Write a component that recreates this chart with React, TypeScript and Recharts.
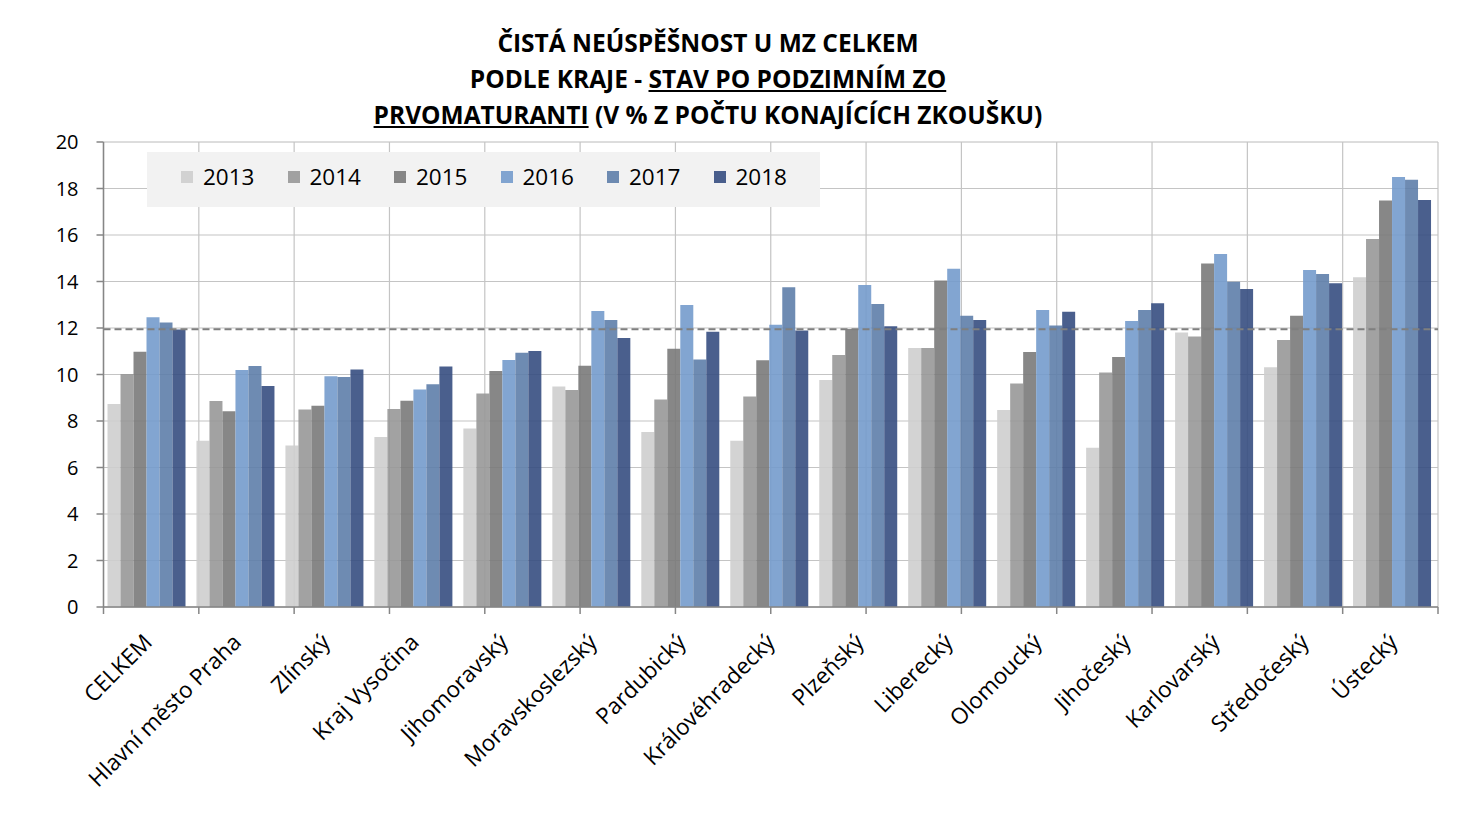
import React from 'react';
import { BarChart, Bar, XAxis, YAxis, CartesianGrid, ReferenceLine, Legend } from 'recharts';

const categories = ['CELKEM', 'Hlavní město Praha', 'Zlínský', 'Kraj Vysočina', 'Jihomoravský', 'Moravskoslezský', 'Pardubický', 'Královéhradecký', 'Plzeňský', 'Liberecký', 'Olomoucký', 'Jihočeský', 'Karlovarský', 'Středočeský', 'Ústecký'];
const years = ['2013', '2014', '2015', '2016', '2017', '2018'];
const v2013 = [8.73, 7.15, 6.95, 7.31, 7.68, 9.48, 7.53, 7.15, 9.76, 11.14, 8.47, 6.85, 11.81, 10.31, 14.18];
const v2014 = [10.02, 8.86, 8.5, 8.52, 9.18, 9.33, 8.92, 9.05, 10.84, 11.14, 9.61, 10.09, 11.63, 11.48, 15.83];
const v2015 = [10.98, 8.42, 8.66, 8.87, 10.15, 10.38, 11.11, 10.61, 11.96, 14.04, 10.97, 10.75, 14.77, 12.53, 17.48];
const v2016 = [12.46, 10.19, 9.92, 9.35, 10.62, 12.73, 12.99, 12.14, 13.85, 14.55, 12.77, 12.3, 15.18, 14.49, 18.49];
const v2017 = [12.24, 10.37, 9.89, 9.58, 10.94, 12.34, 10.65, 13.75, 13.03, 12.53, 12.11, 12.77, 13.99, 14.32, 18.38];
const v2018 = [11.94, 9.51, 10.22, 10.34, 11.01, 11.57, 11.84, 11.89, 12.07, 12.34, 12.7, 13.06, 13.68, 13.92, 17.51];
const celkemLevel = 11.95;
const yTicks = [0, 2, 4, 6, 8, 10, 12, 14, 16, 18, 20];
const minorTicks = Array.from({ length: 51 }, (_, i) => Math.round(i * 4) / 10);
const boundaryTicks = Array.from({ length: 16 }, (_, i) => i);

const colors = ['#cecece', '#989898', '#7a7a7a', '#749bcc', '#5e7eaa', '#364e81'];
const seriesValues = [v2013, v2014, v2015, v2016, v2017, v2018];

const data = categories.map((name, i) => {
  const row: Record<string, string | number> = { name };
  years.forEach((y, k) => { row[y] = seriesValues[k][i]; });
  return row;
});

const FONT = '"Open Sans", Carlito, Lato, sans-serif';

const CatTick = (props: any) => {
  const { x, y, payload } = props;
  const ax = x;
  const ay = y + 22;
  return (
    <text x={ax} y={ay} dy="0.35em" textAnchor="end" transform={`rotate(-45, ${ax}, ${ay})`}
      fontSize={22.5} fontFamily={FONT} fill="#000">
      {payload.value}
    </text>
  );
};

const LegendBox = () => (
  <div style={{ width: 673, height: 55, background: '#f2f2f2', display: 'flex', alignItems: 'center', paddingLeft: 34, paddingBottom: 6, boxSizing: 'border-box' }}>
    {years.map((y, k) => (
      <div key={y} style={{ width: 108, display: 'flex', alignItems: 'center' }}>
        <div style={{ width: 12, height: 12, background: colors[k], opacity: 0.9, marginRight: 10 }} />
        <span style={{ fontFamily: FONT, fontSize: 22.5, color: '#000' }}>{y}</span>
      </div>
    ))}
  </div>
);

export default function App() {
  return (
    <div style={{ position: 'relative', width: 1452, height: 830, margin: '-1px 0 0 -1px', borderLeft: '1px solid #d0d0d0', borderTop: '1px solid #d0d0d0' }}>
      <div style={{ position: 'absolute', left: 0, top: 17, width: 1400, textAlign: 'center', fontFamily: FONT, fontWeight: 700, fontSize: 24.5, lineHeight: '36px', color: '#000', zIndex: 2 }}>
        <div>ČISTÁ NEÚSPĚŠNOST U MZ CELKEM</div>
        <div>PODLE KRAJE - <span style={{ textDecoration: 'underline' }}>STAV PO PODZIMNÍM ZO</span></div>
        <div><span style={{ textDecoration: 'underline' }}>PRVOMATURANTI</span> (V % Z POČTU KONAJÍCÍCH ZKOUŠKU)</div>
      </div>
      <BarChart width={1452} height={830} data={data} margin={{ top: 134, left: 35.5, right: 22, bottom: 80 }}
        barCategoryGap={4} barGap={0}>
        <XAxis xAxisId="b" type="number" domain={[0, 15]} ticks={boundaryTicks} allowDataOverflow height={1}
          tickFormatter={() => ''} tickSize={7} tickLine={{ stroke: '#868686', strokeWidth: 1.5 }} axisLine={{ stroke: '#868686', strokeWidth: 1.5 }} />
        <XAxis xAxisId="cat" dataKey="name" interval={0} height={150} tickLine={false} axisLine={false} tick={<CatTick />} />
        <YAxis yAxisId="minor" domain={[0, 20]} ticks={minorTicks} hide />
        <YAxis domain={[0, 20]} ticks={yTicks} width={60} tickSize={7} tickMargin={18} interval={0}
          tick={{ fontSize: 20, fontFamily: FONT, fill: '#000' }} tickLine={{ stroke: '#868686', strokeWidth: 1.5 }} axisLine={{ stroke: '#868686', strokeWidth: 1.5 }} />
        <CartesianGrid yAxisId="minor" xAxisId="b" vertical={false} stroke="#ececec" strokeWidth={1} />
        <CartesianGrid xAxisId="b" stroke="#c4c4c4" strokeWidth={1.2} />
        <Legend verticalAlign="middle" layout="horizontal" content={<LegendBox />}
          wrapperStyle={{ position: 'absolute', left: 139, top: 144, width: 673, height: 55 }} />
        {years.map((y, k) => (
          <Bar key={y} xAxisId="cat" dataKey={y} fill={colors[k]} fillOpacity={0.9} isAnimationActive={false} />
        ))}
        <ReferenceLine xAxisId="cat" y={celkemLevel} stroke="#7f7f7f" strokeWidth={2} strokeDasharray="7 4" />
      </BarChart>
    </div>
  );
}
